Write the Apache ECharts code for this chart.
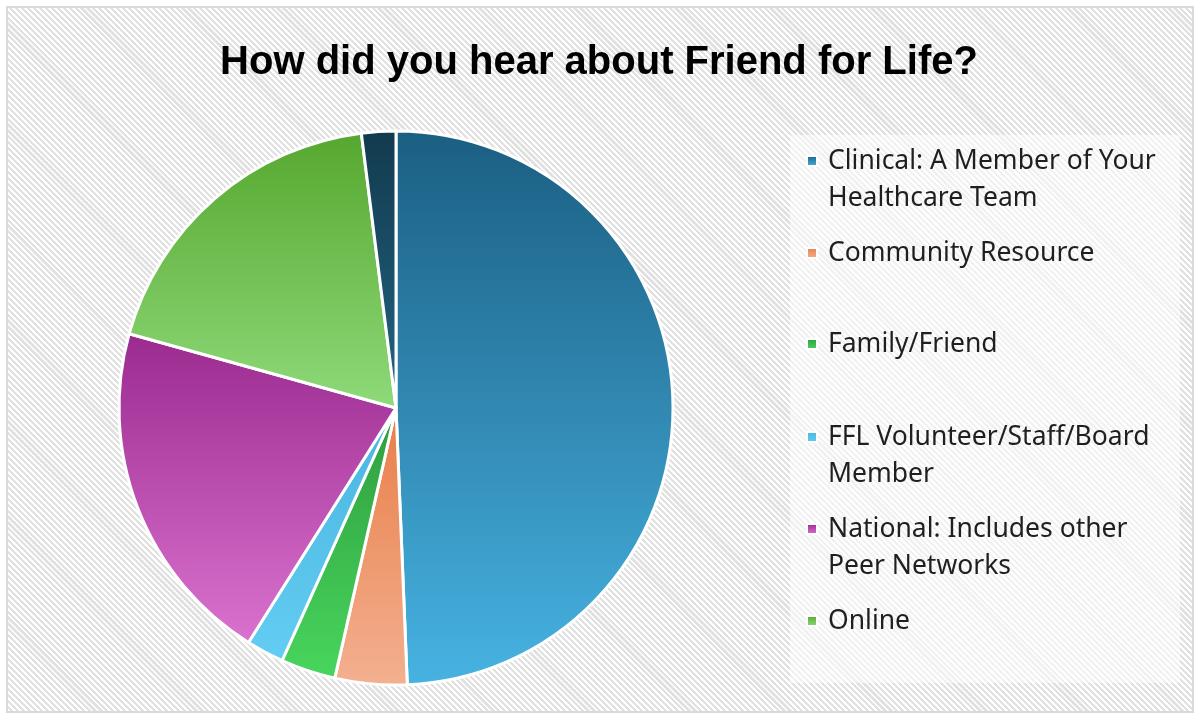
<!DOCTYPE html>
<html>
<head>
<meta charset="utf-8">
<script src="https://cdn.jsdelivr.net/npm/echarts@6/dist/echarts.min.js"></script>
<style>
  html, body { margin: 0; padding: 0; background: #ffffff; }
  #bg {
    position: absolute; left: 6px; top: 6px; width: 1184px; height: 703px;
    border: 2px solid #d9d9d9;
    background: repeating-linear-gradient(45deg, #ffffff 0px, #ffffff 2px, #e1e1e1 2px, #e1e1e1 4.2px);
  }
  #chart { position: absolute; left: 0; top: 0; width: 1198px; height: 719px; }
</style>
</head>
<body>
<div id="bg"></div>
<div id="chart"></div>
<script>
const titleText = 'How did you hear about Friend for Life?';
const categories = [
  'Clinical: A Member of Your\nHealthcare Team',
  'Community Resource',
  'Family/Friend',
  'FFL Volunteer/Staff/Board\nMember',
  'National: Includes other\nPeer Networks',
  'Online',
  'Other'
];
const values = [49.4, 4.2, 3.2, 2.2, 20.4, 18.7, 2.0];
const legendNames = categories.slice(0, 6);
const legendCenters = [161, 253, 344, 437, 529, 621];
const gradTop = ['#1b5e82', '#e87e48', '#2f9c3e', '#49b4de', '#9b2a8f', '#56a72f', '#133a4e'];
const gradBot = ['#47b3e2', '#f3b090', '#48d65d', '#63cdf3', '#da72cf', '#8fda7a', '#226584'];

const chart = echarts.init(document.getElementById('chart'));

const data = categories.map((c, i) => ({
  name: c,
  value: values[i],
  itemStyle: {
    color: new echarts.graphic.LinearGradient(0, 0, 0, 1, [
      { offset: 0, color: gradTop[i] },
      { offset: 1, color: gradBot[i] }
    ])
  }
}));

const LH = 37;
const legends = legendNames.map((n, i) => {
  const twoLine = n.indexOf('\n') >= 0;
  return {
    data: [n],
    orient: 'vertical',
    left: 806,
    top: legendCenters[i] - (twoLine ? LH * 1.5 : LH / 2),
    padding: 0,
    itemWidth: 10,
    itemHeight: 10,
    icon: 'rect',
    selectedMode: false,
    formatter: twoLine ? (name => '\n' + name) : (name => name),
    textStyle: {
      fontFamily: 'Noto Sans',
      fontSize: 26.5,
      color: '#1f1f1f',
      lineHeight: LH,
      padding: [0, 0, 0, 6]
    }
  };
});

chart.setOption({
  animation: false,
  title: {
    text: titleText,
    left: 'center',
    top: 38,
    textStyle: { fontFamily: 'Liberation Sans', fontWeight: 'bold', fontSize: 40, color: '#000000' }
  },
  graphic: [{
    type: 'rect',
    z: -1,
    shape: { x: 790, y: 135, width: 390, height: 548 },
    style: { fill: 'rgba(255,255,255,0.55)' }
  }],
  legend: legends,
  series: [{
    type: 'pie',
    center: [396, 408],
    radius: [0, 277],
    startAngle: 90,
    clockwise: true,
    label: { show: false },
    labelLine: { show: false },
    emphasis: { disabled: true },
    itemStyle: { borderColor: '#ffffff', borderWidth: 3 },
    data: data
  }]
});
</script>
</body>
</html>
